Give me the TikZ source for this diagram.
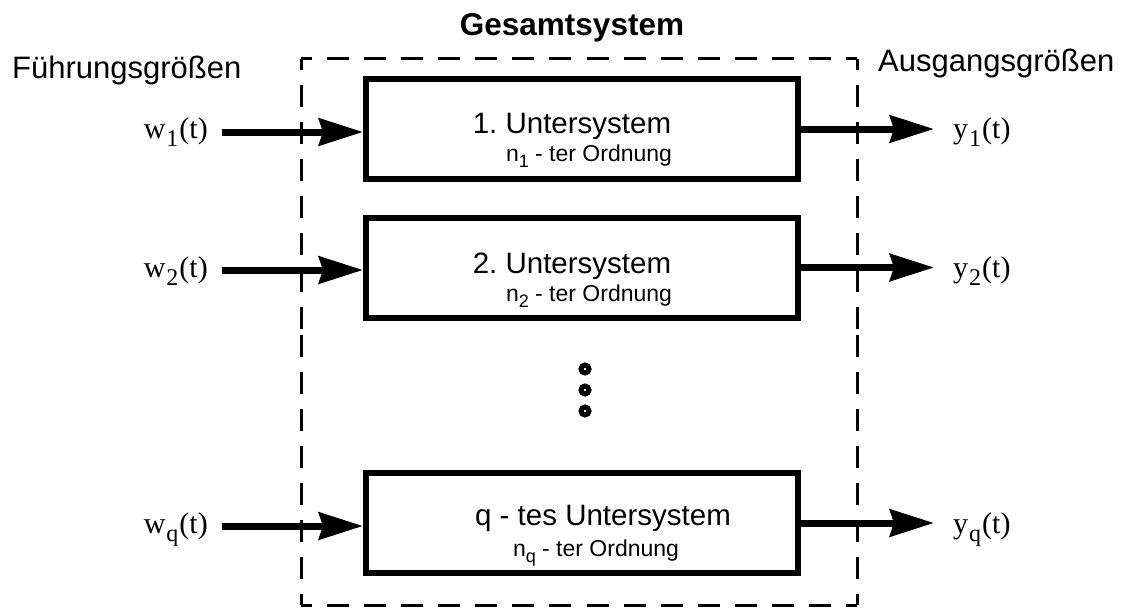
\documentclass[tikz,border=0pt]{standalone}
\usepackage{fontspec}
\setmainfont{Liberation Sans}
\newfontfamily\serifface{Liberation Serif}
\usetikzlibrary{arrows.meta,calc}

% lowered index: size, drop, text
\newcommand{\idx}[3]{\raisebox{-#2pt}{\fontsize{#1}{#1}\selectfont #3}}
\newcommand{\sigidx}[1]{\kern1pt\idx{24}{8}{#1}\kern1pt}
\newcommand{\ordidx}[1]{\idx{18}{6}{#1}}

\begin{document}
\frenchspacing
\begin{tikzpicture}[x=1pt,y=-1pt,
  block/.style={draw, line width=6pt, minimum width=432pt, minimum height=100pt, inner sep=0pt},
  sig/.style={line width=7pt, -{Stealth[length=44pt,width=27pt,inset=4pt]}},
  frame/.style={line width=3pt, dash pattern=on 22pt off 15pt, dash phase=11pt},
  heading/.style={font=\fontsize{31.5}{31.5}\selectfont\bfseries, anchor=base, inner sep=0pt},
  caption/.style={font=\fontsize{31}{31}\selectfont, anchor=base west, inner sep=0pt},
  mainline/.style={font=\fontsize{29.5}{29.5}\selectfont, anchor=base, inner sep=0pt},
  orderline/.style={font=\fontsize{23}{23}\selectfont, anchor=base, inner sep=0pt},
  inlabel/.style={font=\serifface\fontsize{30}{30}\selectfont, anchor=base east, inner sep=0pt},
  outlabel/.style={font=\serifface\fontsize{30}{30}\selectfont, anchor=base west, inner sep=0pt},
  dot/.style={circle, draw, line width=5pt, minimum size=8pt, inner sep=0pt}
]
\useasboundingbox (0,0) rectangle (1128,610);

% dashed frame of the whole system, drawn from each corner to the side midpoints
\coordinate (fTL) at (301,59);
\coordinate (fTR) at (857,59);
\coordinate (fBL) at (301,605);
\coordinate (fBR) at (857,605);
\coordinate (mT) at ($(fTL)!0.5!(fTR)$);
\coordinate (mB) at ($(fBL)!0.5!(fBR)$);
\coordinate (mL) at ($(fTL)!0.5!(fBL)$);
\coordinate (mR) at ($(fTR)!0.5!(fBR)$);
\draw[frame] (fTL) -- (mT);
\draw[frame] (fTR) -- (mT);
\draw[frame] (fBL) -- (mB);
\draw[frame] (fBR) -- (mB);
\draw[frame] (fTL) -- (mL);
\draw[frame] (fBL) -- (mL);
\draw[frame] (fTR) -- (mR);
\draw[frame] (fBR) -- (mR);

% headings
\node[heading] (gesamt) at (572,36) {Gesamtsystem};
\node[caption] (fuehr) at (12,79) {Führungsgrößen};
\node[caption] (ausg) at (878,72) {Ausgangsgrößen};

% subsystems
\node[block] (b1) at (582,129) {};
\node[block] (b2) at (582,267.5) {};
\node[block] (bq) at (582,523) {};

\node[mainline] (t1) at (572,133) {1. Untersystem};
\node[orderline] (o1) at (589,161) {n\ordidx{1} - ter Ordnung};
\node[mainline] (t2) at (572,273) {2. Untersystem};
\node[orderline] (o2) at (589,301) {n\ordidx{2} - ter Ordnung};
\node[mainline] (tq) at (603,525) {q - tes Untersystem};
\node[orderline] (oq) at (596,556) {n\ordidx{q} - ter Ordnung};

% ellipsis between the subsystems
\node[dot] (d1) at (585,369) {};
\node[dot] (d2) at (585,390) {};
\node[dot] (d3) at (585,411) {};

% inputs
\coordinate (in1) at (222,132);
\coordinate (in2) at (222,270);
\coordinate (inq) at (222,526);
\node[inlabel] (w1) at (208,139) {w\sigidx{1}(t)};
\node[inlabel] (w2) at (208,277) {w\sigidx{2}(t)};
\node[inlabel] (wq) at (208,533) {w\sigidx{q}(t)};
\draw[sig] (in1) -- (in1 -| b1.west);
\draw[sig] (in2) -- (in2 -| b2.west);
\draw[sig] (inq) -- (inq -| bq.west);

% outputs
\coordinate (out1) at (934,129);
\coordinate (out2) at (934,267.5);
\coordinate (outq) at (934,523);
\node[outlabel] (y1) at (953,139) {y\sigidx{1}(t)};
\node[outlabel] (y2) at (953,277) {y\sigidx{2}(t)};
\node[outlabel] (yq) at (953,533) {y\sigidx{q}(t)};
\draw[sig] (b1.east) -- (out1);
\draw[sig] (b2.east) -- (out2);
\draw[sig] (bq.east) -- (outq);
\end{tikzpicture}
\end{document}
